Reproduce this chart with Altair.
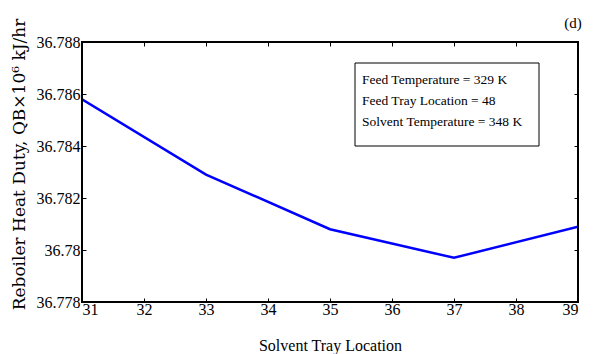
import altair as alt
import pandas as pd

tray = [31, 33, 35, 37, 39]
duty = [36.7858, 36.7829, 36.7808, 36.7797, 36.7809]
y_ticks = [36.778, 36.780, 36.782, 36.784, 36.786, 36.788]
x_ticks = [31, 32, 33, 34, 35, 36, 37, 38, 39]
note_lines = ["Feed Temperature = 329 K", "Feed Tray Location = 48", "Solvent Temperature = 348 K"]
panel_tag = "(d)"

df = pd.DataFrame({"tray": tray, "duty": duty})

SERIF = "Liberation Serif"
xs = alt.Scale(domain=[31, 39], nice=False, zero=False)
ys = alt.Scale(domain=[36.778, 36.788], nice=False, zero=False)

base = alt.Chart(df)

line = base.mark_line(color="#0000ff", strokeWidth=2.5, clip=True).encode(
    x=alt.X("tray:Q", scale=xs, axis=alt.Axis(
        values=x_ticks, title="Solvent Tray Location", orient="bottom",
        domain=False, grid=False, offset=-4, tickSize=4, tickColor="black",
        labelFont=SERIF, labelFontSize=16, labelColor="black", labelPadding=-1,
        titleFont=SERIF, titleFontSize=16, titleFontWeight="normal", titleColor="black",
        titlePadding=20, format="d")),
    y=alt.Y("duty:Q", scale=ys, axis=alt.Axis(
        values=y_ticks, title="Reboiler Heat Duty, QB×10⁶ kJ/hr", orient="left",
        domain=False, grid=False, offset=-4, tickSize=4, tickColor="black",
        labelFont=SERIF, labelFontSize=16, labelColor="black", labelPadding=2,
        format=".3~f",
        titleFont="DejaVu Serif", titleFontSize=17, titleFontWeight="normal", titleColor="black",
        titleX=-58, titleY=122, titleBaseline="bottom")),
)

mirror = base.mark_line(opacity=0).encode(
    x=alt.X("tray:Q", scale=xs, axis=alt.Axis(
        values=x_ticks, title=None, orient="top", labels=False, domain=False,
        grid=False, offset=-4, tickSize=4, tickColor="black")),
    y=alt.Y("duty:Q", scale=ys, axis=alt.Axis(
        values=y_ticks, title=None, orient="right", labels=False, domain=False,
        grid=False, offset=-4, tickSize=4, tickColor="black")),
)

frame = alt.Chart(pd.DataFrame({"a": [0]})).mark_rect(
    fillOpacity=0, stroke="black", strokeWidth=2).encode(
    x=alt.value(0), x2=alt.value(496), y=alt.value(0), y2=alt.value(260))

box = alt.Chart(pd.DataFrame({"a": [0]})).mark_rect(
    fill="white", stroke="black", strokeWidth=1).encode(
    x=alt.value(273), x2=alt.value(457), y=alt.value(21), y2=alt.value(104))

note = alt.Chart(pd.DataFrame({"t": ["\n".join(note_lines)]})).mark_text(
    align="left", baseline="top", font=SERIF, fontSize=13.5, lineHeight=21,
    lineBreak="\n", color="black").encode(
    x=alt.value(280), y=alt.value(31), text="t:N")

tag = alt.Chart(pd.DataFrame({"t": [panel_tag]})).mark_text(
    align="center", baseline="middle", font=SERIF, fontSize=15, color="black").encode(
    x=alt.value(491), y=alt.value(-19), text="t:N")

chart = alt.layer(line, mirror, frame, box, note, tag).resolve_axis(
    x="independent", y="independent"
).properties(
    width=496, height=260,
    autosize=alt.AutoSizeParams(type="none"),
    padding={"left": 82, "top": 42, "right": 15, "bottom": 52},
).configure_view(stroke=None).configure(background="white")

chart.save("out.html", embed_options={"renderer": "svg", "actions": False})
